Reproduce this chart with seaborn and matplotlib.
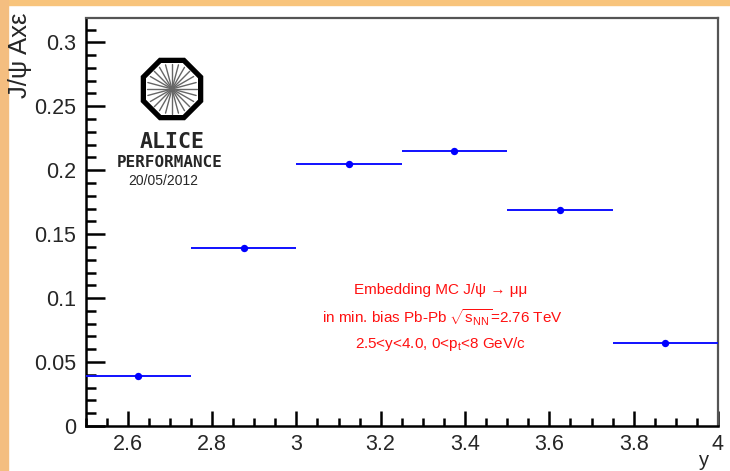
import numpy as np
import pandas as pd
import matplotlib
matplotlib.use("Agg")
import matplotlib.pyplot as plt
import seaborn as sns
from matplotlib.patches import Rectangle, RegularPolygon
from matplotlib.ticker import MultipleLocator

# ---- data ----
y_centers = [2.625, 2.875, 3.125, 3.375, 3.625, 3.875]
y_halfwidth = [0.125, 0.125, 0.125, 0.125, 0.125, 0.125]
acc_eff = [0.039, 0.139, 0.205, 0.215, 0.169, 0.065]
xticks = [2.6, 2.8, 3.0, 3.2, 3.4, 3.6, 3.8, 4.0]
xticklabels = ["2.6", "2.8", "3", "3.2", "3.4", "3.6", "3.8", "4"]
yticks = [0, 0.05, 0.1, 0.15, 0.2, 0.25, 0.3]
yticklabels = ["0", "0.05", "0.1", "0.15", "0.2", "0.25", "0.3"]

df = pd.DataFrame({"y": y_centers, "acc": acc_eff, "dx": y_halfwidth})

sns.set_style("ticks")
plt.rcParams["font.family"] = ["Liberation Sans", "DejaVu Sans"]
plt.rcParams["mathtext.fontset"] = "custom"
plt.rcParams["mathtext.rm"] = "Liberation Sans"
plt.rcParams["mathtext.it"] = "Liberation Sans"

W, H = 730, 471
fig = plt.figure(figsize=(W / 100, H / 100), dpi=100, facecolor="white")

# orange frame strips (top and left)
fig.patches.append(Rectangle((0, 1 - 5 / H), 1, 5 / H, transform=fig.transFigure,
                             color="#F8C47C", zorder=0))
fig.patches.append(Rectangle((0, 0), 8 / W, 1, transform=fig.transFigure,
                             color="#F4BE80", zorder=0))

x0, x1 = 85.5, 718
ytop, ybot = 18, 426
ax = fig.add_axes([x0 / W, (H - ybot) / H, (x1 - x0) / W, (ybot - ytop) / H])

ax.errorbar(df["y"], df["acc"], xerr=df["dx"], fmt="none", ecolor="#1010FF",
            elinewidth=1.4, capsize=0, zorder=3)
sns.scatterplot(data=df, x="y", y="acc", ax=ax, color="#0000FF", s=28,
                edgecolor="#0000FF", linewidth=0, zorder=4, legend=False)

ax.set_xlim(2.5, 4.0)
ax.set_ylim(0, 0.319)
ax.set_xticks(xticks)
ax.set_xticklabels(xticklabels)
ax.set_yticks(yticks)
ax.set_yticklabels(yticklabels)
ax.xaxis.set_minor_locator(MultipleLocator(0.05))
ax.yaxis.set_minor_locator(MultipleLocator(0.01))
ax.tick_params(axis="both", which="both", direction="in", color="black",
               labelsize=15.5, top=False, right=False)
ax.tick_params(axis="y", which="major", length=14, width=1.8, pad=7)
ax.tick_params(axis="y", which="minor", length=7, width=1.8)
ax.tick_params(axis="x", which="major", length=11, width=1.8, pad=6)
ax.tick_params(axis="x", which="minor", length=6, width=1.8)

for s in ["left", "bottom"]:
    ax.spines[s].set_linewidth(1.8)
    ax.spines[s].set_color("black")
for s in ["top", "right"]:
    ax.spines[s].set_linewidth(1.6)
    ax.spines[s].set_color("#555555")

ax.set_xlabel("")
ax.set_ylabel("")
fig.text(20 / W, 1 - 12 / H, "J/ψ Axε", rotation=90, ha="center", va="top",
         fontsize=18.5)
fig.text(709 / W, 1 - 470.5 / H, "y", ha="right", va="bottom", fontsize=14.5)

# red annotation
red = "#FF1010"
fig.text(441 / W, 1 - 290 / H, "Embedding MC J/ψ → μμ", color=red,
         ha="center", va="center", fontsize=11)
fig.text(442 / W, 1 - 318 / H,
         r"in min. bias Pb-Pb $\sqrt{s_{\rm NN}}$=2.76 TeV", color=red,
         ha="center", va="center", fontsize=11)
fig.text(441 / W, 1 - 344 / H, r"2.5<y<4.0, 0<p$_{\rm t}$<8 GeV/c", color=red,
         ha="center", va="center", fontsize=11)

# ALICE performance logo
cx, cy, r = 172, 89, 33
lax = fig.add_axes([(cx - r - 4) / W, (H - cy - r - 4) / H, (2 * r + 8) / W, (2 * r + 8) / H])
lax.set_xlim(-r - 4, r + 4)
lax.set_ylim(-r - 4, r + 4)
lax.axis("off")
lax.add_patch(RegularPolygon((0, 0), 8, radius=r - 2, orientation=np.pi / 8,
                             fill=False, edgecolor="black", linewidth=3.8))
for a in np.linspace(0, np.pi, 12, endpoint=False):
    lax.plot([-25 * np.cos(a), 25 * np.cos(a)], [-25 * np.sin(a), 25 * np.sin(a)],
             color="#666666", linewidth=1.0)
fig.text(172 / W, 1 - 142 / H, "ALICE", ha="center", va="center", fontsize=15.5,
         fontweight="bold", family="DejaVu Sans Mono")
fig.text(170 / W, 1 - 163 / H, "PERFORMANCE", ha="center", va="center",
         fontsize=11.5, fontweight="bold", family="DejaVu Sans Mono")
fig.text(163 / W, 1 - 181 / H, "20/05/2012", ha="center", va="center",
         fontsize=10)

fig.savefig("out.png", dpi=100, facecolor="white")
